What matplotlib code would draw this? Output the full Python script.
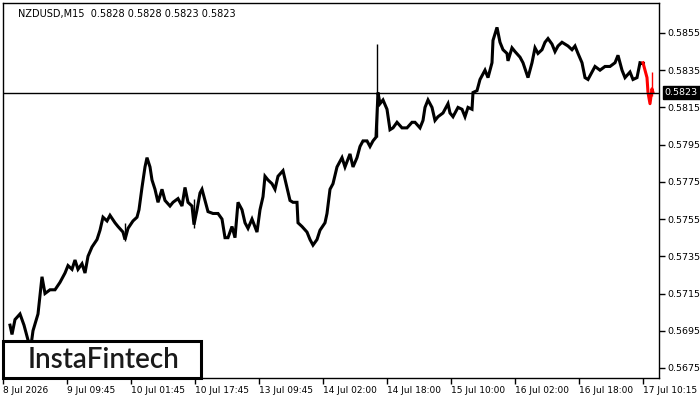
import numpy as np
import matplotlib
matplotlib.use("Agg")
import matplotlib.pyplot as plt
from matplotlib.patches import Rectangle

# M15 bar index (one bar per pixel column) and price
bars = [7, 9, 12, 17, 21, 25, 28, 30, 35, 37, 39, 42, 47, 52, 57, 62, 65, 69, 72, 75,
        79, 82, 85, 89, 94, 97, 100, 104, 107, 112, 115, 120, 122, 125, 130, 134, 136, 139, 142, 144,
        147, 149, 152, 155, 159, 162, 167, 170, 175, 179, 182, 185, 189, 191, 194, 197, 199, 202, 205, 210,
        215, 219, 222, 225, 229, 232, 235, 239, 242, 245, 249, 254, 257, 260, 262, 265, 269, 272, 275, 280,
        284, 287, 290, 294, 295, 299, 304, 307, 310, 314, 317, 322, 324, 327, 330, 334, 339, 342, 347, 350,
        354, 357, 360, 364, 367, 370, 373, 375, 377, 380, 384, 387, 390, 394, 399, 404, 409, 412, 417, 420,
        422, 425, 429, 432, 435, 440, 445, 447, 450, 455, 459, 462, 465, 469, 470, 474, 477, 482, 485, 489,
        490, 494, 497, 500, 504, 505, 509, 512, 517, 520, 525, 529, 532, 535, 539, 542, 545, 549, 552, 555,
        559, 562, 565, 569, 572, 575, 579, 582, 585, 589, 592, 597, 602, 607, 612, 615, 619, 622, 627, 630,
        634, 637]
closes = [0.5698, 0.5693, 0.5701, 0.5704, 0.5698, 0.5690, 0.5687, 0.5695, 0.5704, 0.5714,
          0.5724, 0.5715, 0.5717, 0.5717, 0.5721, 0.5726, 0.5730, 0.5728, 0.5733, 0.5728,
          0.5731, 0.5726, 0.5735, 0.5740, 0.5744, 0.5749, 0.5756, 0.5754, 0.5757, 0.5753,
          0.5751, 0.5748, 0.5744, 0.5750, 0.5754, 0.5756, 0.5760, 0.5772, 0.5783, 0.5788,
          0.5783, 0.5776, 0.5771, 0.5764, 0.5771, 0.5765, 0.5762, 0.5764, 0.5766, 0.5762,
          0.5772, 0.5764, 0.5762, 0.5752, 0.5760, 0.5769, 0.5771, 0.5765, 0.5759, 0.5758,
          0.5758, 0.5755, 0.5745, 0.5745, 0.5751, 0.5745, 0.5764, 0.5760, 0.5753, 0.5750,
          0.5755, 0.5748, 0.5760, 0.5767, 0.5778, 0.5776, 0.5774, 0.5771, 0.5778, 0.5781,
          0.5772, 0.5765, 0.5764, 0.5764, 0.5753, 0.5751, 0.5748, 0.5744, 0.5741, 0.5744,
          0.5749, 0.5753, 0.5758, 0.5771, 0.5774, 0.5783, 0.5788, 0.5783, 0.5790, 0.5783,
          0.5788, 0.5794, 0.5797, 0.5797, 0.5794, 0.5797, 0.5799, 0.5823, 0.5817, 0.5819,
          0.5814, 0.5803, 0.5804, 0.5807, 0.5804, 0.5804, 0.5807, 0.5807, 0.5804, 0.5808,
          0.5815, 0.5819, 0.5815, 0.5808, 0.5810, 0.5812, 0.5817, 0.5812, 0.5810, 0.5815,
          0.5814, 0.5810, 0.5815, 0.5814, 0.5823, 0.5824, 0.5830, 0.5835, 0.5831, 0.5839,
          0.5851, 0.5858, 0.5850, 0.5846, 0.5844, 0.5840, 0.5847, 0.5845, 0.5842, 0.5839,
          0.5831, 0.5839, 0.5847, 0.5844, 0.5846, 0.5850, 0.5852, 0.5849, 0.5845, 0.5848,
          0.5850, 0.5849, 0.5848, 0.5846, 0.5848, 0.5844, 0.5839, 0.5831, 0.5830, 0.5834,
          0.5837, 0.5835, 0.5837, 0.5837, 0.5839, 0.5843, 0.5835, 0.5831, 0.5834, 0.5830,
          0.5831, 0.5839]
# last bars, highlighted in red
red_bars = [640, 644, 645, 647, 649, 650]
red_closes = [0.5839, 0.5831, 0.5823, 0.5817, 0.5825, 0.5823]
# long wicks: bar, high, low
wicks = [(374, 0.5849, 0.5799), (191, 0.5766, 0.5750), (122, 0.5753, 0.5743),
         (649, 0.5834, 0.5821)]

tick_bars = [0, 64, 128, 192, 256, 320, 384, 448, 512, 576, 640]
tick_labels = ["8 Jul 2026", "9 Jul 09:45", "10 Jul 01:45", "10 Jul 17:45", "13 Jul 09:45",
               "14 Jul 02:00", "14 Jul 18:00", "15 Jul 10:00", "16 Jul 02:00", "16 Jul 18:00",
               "17 Jul 10:15"]
price_ticks = [0.5675, 0.5695, 0.5715, 0.5735, 0.5755, 0.5775, 0.5795, 0.5815, 0.5835, 0.5855]
last_price = 0.5823
header = "NZDUSD,M15  0.5828 0.5828 0.5823 0.5823"

fig = plt.figure(figsize=(7, 4), dpi=100)
ax = fig.add_axes([3 / 700, 22 / 400, 656 / 700, 375 / 400])

ax.plot(bars, closes, color="black", lw=2.2, solid_joinstyle="miter")
ax.plot([bars[-1]] + red_bars[:1], [closes[-1]] + red_closes[:1], color="black", lw=2.2)
ax.plot(red_bars, red_closes, color="red", lw=2.2)
for b, hi, lo in wicks:
    ax.vlines(b, lo, hi, color="red" if b in red_bars else "black", lw=1)

ax.axhline(last_price, color="black", lw=1)

ax.set_xlim(0, 656)
ax.set_ylim(0.56696, 0.58711)
ax.set_xticks(tick_bars)
ax.set_xticklabels(tick_labels, ha="left", fontsize=6.5)
ax.set_yticks(price_ticks)
ax.set_yticklabels([f"{p:.4f}" for p in price_ticks], fontsize=6.8)
ax.yaxis.tick_right()
ax.tick_params(axis="both", direction="out", length=4, width=1, pad=2)
for s in ax.spines.values():
    s.set_linewidth(1)

ax.annotate(f"{last_price:.4f}", xy=(1.0, last_price), xycoords=("axes fraction", "data"),
            xytext=(4, 0), textcoords="offset points", va="center", ha="left", fontsize=6.8,
            color="white", bbox=dict(boxstyle="square,pad=0.2", fc="black", ec="black"))

ax.text(0.023, 0.985, header, transform=ax.transAxes, fontsize=7, va="top", ha="left")

ax.add_patch(Rectangle((0, 0), 198 / 656, 37 / 375, transform=ax.transAxes,
                       facecolor="white", edgecolor="black", lw=2.2, zorder=5, clip_on=False))
ax.text(101 / 656, 18 / 375, "InstaFintech", transform=ax.transAxes, fontsize=20,
        family="Lato", fontweight="semibold", color="#1a1a1a", ha="center", va="center", zorder=6)

fig.savefig("out.png", dpi=100)
